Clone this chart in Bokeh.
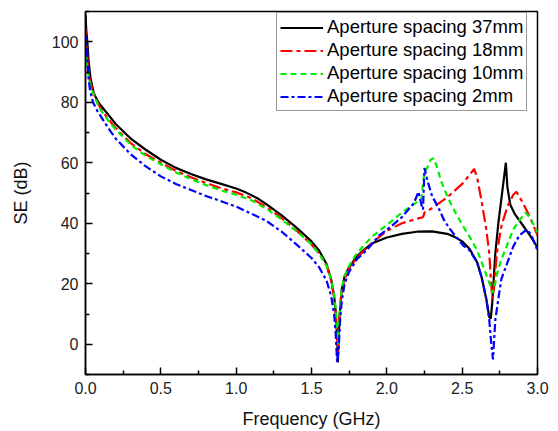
from bokeh.plotting import figure
from bokeh.models import (Range1d, FixedTicker, NumeralTickFormatter, Legend, LegendItem,
                          ColumnDataSource)
from bokeh.embed import file_html
from bokeh.resources import INLINE

# ---- data ----
f_37 = [0.0, 0.005, 0.013, 0.02, 0.033, 0.055, 0.08, 0.1, 0.15, 0.2, 0.3, 0.4, 0.5, 0.6, 0.7, 0.8, 0.9,
        1.0, 1.05, 1.1, 1.15, 1.2, 1.3, 1.4, 1.5, 1.55, 1.6, 1.63, 1.65, 1.66, 1.67, 1.675, 1.68, 1.69,
        1.7, 1.72, 1.75, 1.8, 1.85, 1.9, 2.0, 2.1, 2.2, 2.3, 2.4, 2.45, 2.5, 2.55, 2.6, 2.63, 2.66,
        2.68, 2.69, 2.7, 2.72, 2.74, 2.76, 2.78, 2.79, 2.8, 2.82, 2.85, 2.9, 2.95, 3.0]
se_37 = [109, 104, 99.5, 94, 88, 83, 80.5, 79, 76, 72.8, 68, 64.3, 61, 58.3, 56.3, 54.5, 53,
         51.5, 50.5, 49.3, 48, 46.3, 42.7, 38.6, 34, 31, 26.5, 21.5, 16, 11, 3, -6, 2, 12,
         18, 22.5, 25.5, 29, 31.3, 33.3, 35.3, 36.5, 37.2, 37.3, 36.5, 35.5, 34, 31.5, 27, 22, 15,
         9, 8.5, 14, 30, 40, 48, 56, 60, 52, 46, 43, 39.5, 36, 32]

f_18 = [0.0, 0.005, 0.01, 0.02, 0.03, 0.05, 0.08, 0.1, 0.15, 0.2, 0.3, 0.4, 0.5, 0.6, 0.7, 0.8, 0.9,
        1.0, 1.1, 1.2, 1.3, 1.4, 1.5, 1.55, 1.6, 1.63, 1.65, 1.66, 1.67, 1.675, 1.68, 1.69, 1.7,
        1.72, 1.75, 1.8, 1.9, 2.0, 2.1, 2.2, 2.24, 2.25, 2.3, 2.4, 2.5, 2.55, 2.58, 2.6, 2.63, 2.66,
        2.68, 2.69, 2.7, 2.71, 2.73, 2.76, 2.8, 2.84, 2.86, 2.9, 2.95, 3.0]
se_18 = [104, 100, 96, 91, 87, 83.5, 80, 78, 74.5, 71.5, 66.5, 62.8, 60, 57.3, 55.2, 53.3, 51.6,
         50.2, 48.3, 45.4, 41.8, 37.6, 33, 30, 26, 21, 15.5, 10, 1, -3, 3, 12, 17,
         21.5, 25, 28.5, 33.5, 37.5, 40, 41.5, 42, 43.5, 45, 48.5, 53, 56, 58, 55, 47, 38,
         30, 22, 15, 18, 30, 39, 45.5, 49.5, 50.4, 47, 42, 36]

f_10 = [0.0, 0.005, 0.01, 0.02, 0.03, 0.05, 0.08, 0.1, 0.15, 0.2, 0.3, 0.4, 0.5, 0.6, 0.7, 0.8, 0.9,
        1.0, 1.1, 1.2, 1.3, 1.4, 1.5, 1.55, 1.6, 1.63, 1.65, 1.66, 1.67, 1.675, 1.68, 1.69, 1.7,
        1.72, 1.75, 1.8, 1.9, 2.0, 2.1, 2.2, 2.23, 2.24, 2.25, 2.27, 2.29, 2.31, 2.33, 2.36, 2.4,
        2.45, 2.5, 2.55, 2.6, 2.63, 2.66, 2.69, 2.7, 2.71, 2.73, 2.76, 2.8, 2.84, 2.88, 2.92, 2.95, 3.0]
se_10 = [93, 95, 92, 89, 86, 83, 79.5, 77.5, 74, 71, 66, 62.3, 59.5, 56.8, 54.6, 52.6, 50.9,
         49.4, 47.6, 44.8, 41.3, 37.4, 33, 30, 26, 21.5, 16.5, 12, 5, 0, 4, 13, 18,
         22.5, 26, 30, 35.5, 39.5, 43.5, 47, 48, 53, 57, 58.5, 61, 61.5, 59, 54, 49,
         44, 39.5, 35.5, 31, 27, 23, 19, 17, 18, 23, 28, 33, 38, 41, 43.5, 42, 37]

f_2 = [0.0, 0.005, 0.01, 0.015, 0.02, 0.03, 0.05, 0.08, 0.1, 0.15, 0.2, 0.3, 0.4, 0.5, 0.6, 0.7, 0.8,
       0.9, 1.0, 1.1, 1.2, 1.3, 1.4, 1.5, 1.55, 1.6, 1.63, 1.65, 1.66, 1.67, 1.68, 1.69, 1.7, 1.72,
       1.75, 1.8, 1.87, 1.95, 2.03, 2.1, 2.18, 2.21, 2.23, 2.24, 2.25, 2.27, 2.3, 2.34, 2.38, 2.42,
       2.46, 2.51, 2.55, 2.6, 2.63, 2.66, 2.68, 2.69, 2.7, 2.705, 2.71, 2.72, 2.74, 2.76, 2.8, 2.84,
       2.88, 2.93, 2.96, 3.0]
se_2 = [95, 102, 98, 92, 88, 84, 80, 77, 75.5, 71.5, 68, 62.8, 58.8, 55.5, 53, 51, 49,
        47.3, 45.5, 43.2, 40.8, 37.3, 33, 28.5, 25.5, 21, 16, 10, 4, -6, -2, 8, 14, 20,
        24, 28, 31.3, 36, 39, 42, 46.7, 50.4, 46, 44.5, 58.3, 54, 49, 45.4, 41, 38,
        35.5, 32.5, 31, 27, 22, 15, 8, 2, -3, -5, 0, 8, 15, 21.5, 27, 32.4,
        36, 38, 36, 31]

labels = ["Aperture spacing 37mm", "Aperture spacing 18mm", "Aperture spacing 10mm", "Aperture spacing 2mm"]
colors = ["#000000", "#ff0000", "#00ee00", "#0000ff"]
dashes = ["solid", "12 4 4 4", "6 4", "8 3 3 3"]
x_ticks = [0.0, 0.5, 1.0, 1.5, 2.0, 2.5, 3.0]
x_minor = [0.25, 0.75, 1.25, 1.75, 2.25, 2.75]
y_ticks = [0, 20, 40, 60, 80, 100]
y_minor = [-10, 10, 30, 50, 70, 90, 110]

FONT = "Liberation Sans"

p = figure(width=558, height=431, output_backend="svg", toolbar_location=None,
           x_range=Range1d(0, 3), y_range=Range1d(-10, 110),
           min_border_left=85, min_border_right=21, min_border_top=11, min_border_bottom=55)
p.background_fill_color = "white"
p.border_fill_color = "white"
p.outline_line_color = "black"
p.outline_line_width = 1.5
p.grid.visible = False

series = [(f_37, se_37), (f_18, se_18), (f_10, se_10), (f_2, se_2)]
renderers = []
for (fx, sy), c, d in zip(series, colors, dashes):
    src = ColumnDataSource(dict(x=fx, y=sy))
    r = p.line("x", "y", source=src, line_color=c, line_width=2.2, line_dash=d)
    renderers.append(r)

for ax, ticks, minor in [(p.xaxis[0], x_ticks, x_minor), (p.yaxis[0], y_ticks, y_minor)]:
    ax.ticker = FixedTicker(ticks=ticks, minor_ticks=minor)
    ax.axis_line_color = "black"
    ax.axis_line_width = 1.5
    ax.major_tick_in = 7
    ax.major_tick_out = 0
    ax.minor_tick_in = 4
    ax.minor_tick_out = 0
    ax.major_tick_line_width = 1.5
    ax.minor_tick_line_width = 1.5
    ax.major_label_text_font = FONT
    ax.major_label_text_font_size = "16px"
    ax.major_label_text_color = "#222222"
    ax.axis_label_text_font = FONT
    ax.axis_label_text_font_size = "18px"
    ax.axis_label_text_font_style = "normal"
    ax.axis_label_text_color = "#111111"
    ax.major_label_standoff = 7

p.xaxis[0].formatter = NumeralTickFormatter(format="0.0")
p.xaxis[0].axis_label = "Frequency (GHz)"
p.yaxis[0].axis_label = "SE (dB)"
p.xaxis[0].axis_label_standoff = 12
p.yaxis[0].axis_label_standoff = 18

legend = Legend(items=[LegendItem(label=l, renderers=[r]) for l, r in zip(labels, renderers)],
                location=(191, 263))
legend.label_text_font = FONT
legend.label_text_font_size = "18.5px"
legend.label_text_color = "black"
legend.glyph_width = 43
legend.glyph_height = 21
legend.label_height = 21
legend.label_standoff = 4
legend.spacing = 1
legend.padding = 3
legend.margin = 0
legend.border_line_color = "#333333"
legend.border_line_width = 1
legend.background_fill_color = "white"
legend.background_fill_alpha = 1.0
p.add_layout(legend)

open("out.html", "w").write(file_html(p, INLINE))
